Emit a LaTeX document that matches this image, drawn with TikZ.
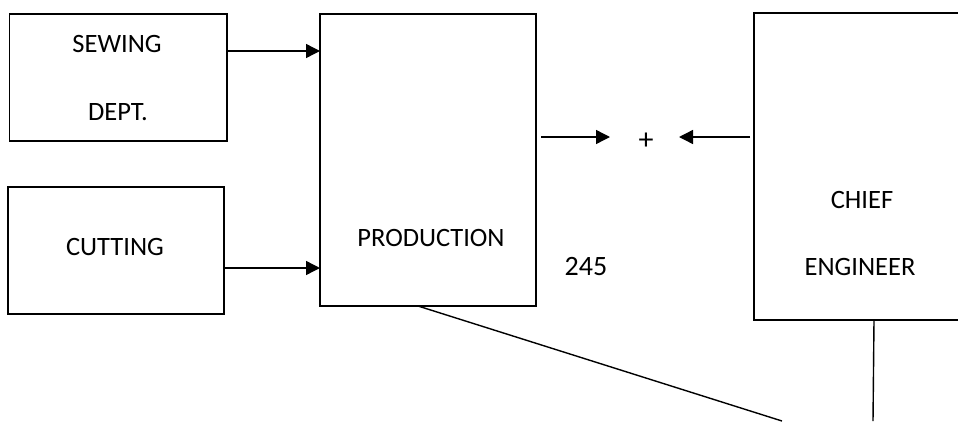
\documentclass[tikz,border=0pt]{standalone}
\usepackage{fontspec}
\setmainfont{Carlito}
\usetikzlibrary{arrows.meta}
\begin{document}
\begin{tikzpicture}[x=1pt,y=-1pt,
  box/.style={draw=black,line width=1.4pt,inner sep=0pt,outer sep=0pt,anchor=north west},
  lbl/.style={inner sep=0pt,font=\fontsize{26.5pt}{30pt}\selectfont},
  conn/.style={line width=1.4pt},
  arr/.style={line width=1.4pt,-{Triangle[length=14pt,width=14pt]}}]
\path[use as bounding box,clip] (0,0) rectangle (958,421);
% boxes
\node[box,minimum width=217.5pt,minimum height=127pt] (sew) at (9.5,14) {};
\node[box,minimum width=216pt,minimum height=127pt] (cut) at (8,187) {};
\node[box,minimum width=216pt,minimum height=292pt] (prod) at (320,14) {};
\node[box,minimum width=260pt,minimum height=307pt] (chief) at (754,13) {};
% labels
\node[lbl] (tsew) at (117,43.5) {SEWING};
\node[lbl] (tdept) at (118,112) {DEPT.};
\node[lbl] (tcut) at (115,246.5) {CUTTING};
\node[lbl] (tprod) at (431,238) {PRODUCTION};
\node[lbl] (tchief) at (862,199.5) {CHIEF};
\node[lbl] (teng) at (860,267) {ENGINEER};
\node[inner sep=0pt,font=\fontsize{28pt}{32pt}\selectfont] (num) at (586,266.5) {245};
\node[inner sep=0pt,font=\fontsize{30pt}{32pt}\selectfont] (plus) at (646,141) {+};
% connectors
\coordinate (s1) at ([yshift=26.5pt]sew.east);
\draw[arr] (s1) -- (s1 -| prod.west);
\coordinate (c1) at ([yshift=-17.5pt]cut.east);
\draw[arr] (c1) -- (c1 -| prod.west);
\coordinate (pl) at (610,137);
\coordinate (pr) at (679,137);
\draw[arr,shorten <=5pt] (prod.east |- pl) -- (pl);
\draw[arr,shorten <=4pt] (chief.west |- pr) -- (pr);
\coordinate (dEnd) at (782,421);
\coordinate (vEnd) at (873,421);
\draw[conn] ([xshift=98pt]prod.south west) -- (dEnd);
\draw[conn] ([xshift=120pt]chief.south west) -- (vEnd);
\end{tikzpicture}
\end{document}
